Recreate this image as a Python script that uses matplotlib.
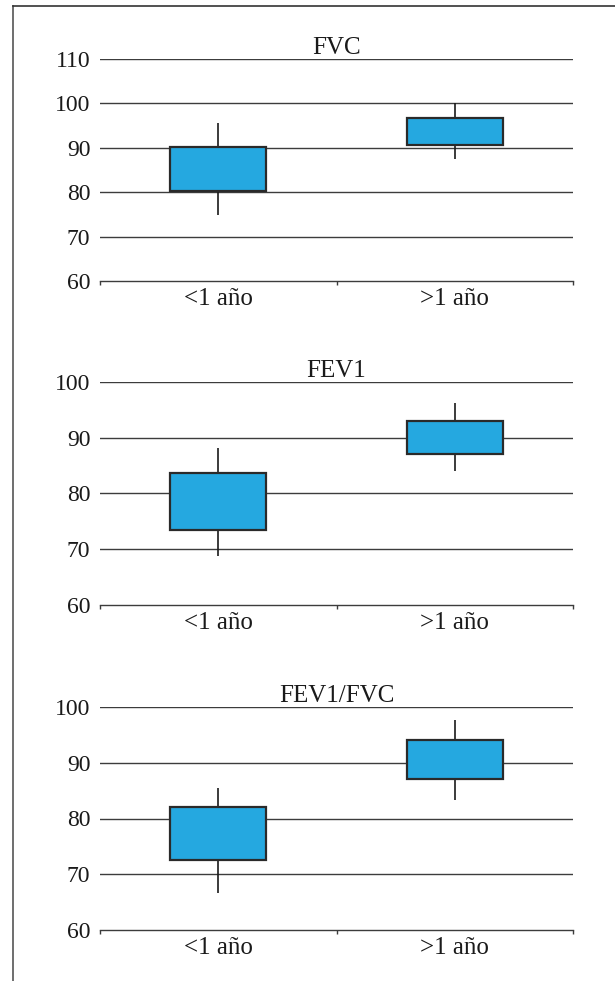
import matplotlib
matplotlib.use("Agg")
import matplotlib.pyplot as plt
from matplotlib.lines import Line2D

plt.rcParams['font.family'] = ['Liberation Serif', 'DejaVu Serif']

categories = ["<1 año", ">1 año"]
titles = ["FVC", "FEV1", "FEV1/FVC"]

# whisker low, box low, box high, whisker high
fvc_low = [74.8, 87.4]
fvc_q1 = [80.2, 90.7]
fvc_q3 = [90.2, 96.7]
fvc_high = [95.6, 100.0]

fev1_low = [68.7, 84.0]
fev1_q1 = [73.5, 87.1]
fev1_q3 = [83.6, 93.0]
fev1_high = [88.1, 96.2]

ratio_low = [66.7, 83.4]
ratio_q1 = [72.6, 87.1]
ratio_q3 = [82.1, 94.0]
ratio_high = [85.5, 97.6]

yticks_list = [[60, 70, 80, 90, 100, 110], [60, 70, 80, 90, 100], [60, 70, 80, 90, 100]]

panels = [
    (fvc_low, fvc_q1, fvc_q3, fvc_high),
    (fev1_low, fev1_q1, fev1_q3, fev1_high),
    (ratio_low, ratio_q1, ratio_q3, ratio_high),
]

W, H = 615, 981
fig = plt.figure(figsize=(W / 100, H / 100), dpi=100)

# axes pixel extents: (top_y_px, bottom_y_px)
ax_px = [(59, 281), (382, 605), (707, 930)]
left_px, right_px = 100, 573

grid_color = '#3c3c3c'
box_color = '#25a8e0'
text_color = '#1a1a1a'

for i, (lo, q1, q3, hi) in enumerate(panels):
    top, bot = ax_px[i]
    ax = fig.add_axes([left_px / W, 1 - bot / H, (right_px - left_px) / W, (bot - top) / H])
    yt = yticks_list[i]
    ax.set_ylim(yt[0], yt[-1])
    ax.set_xlim(0, len(categories))
    x = [k + 0.5 for k in range(len(categories))]
    for yv in yt[1:]:
        ax.axhline(yv, color=grid_color, lw=1.0, zorder=1)
    ax.vlines(x, lo, hi, color='#1a1a1a', lw=1.2, zorder=2)
    heights = [b - a for a, b in zip(q1, q3)]
    ax.bar(x, heights, bottom=q1, width=0.405, color=box_color,
           edgecolor='#2a2a2a', linewidth=1.6, zorder=3)
    for s in ['top', 'right', 'left']:
        ax.spines[s].set_visible(False)
    ax.spines['bottom'].set_color(grid_color)
    ax.spines['bottom'].set_linewidth(1.0)
    ax.set_yticks(yt)
    ax.set_yticklabels([str(v) for v in yt], fontsize=17, color=text_color)
    ax.tick_params(axis='y', length=0, pad=7)
    ax.set_xticks(x)
    ax.set_xticklabels(categories, fontsize=18, color=text_color)
    ax.tick_params(axis='x', which='major', length=0, pad=5)
    ax.set_xticks(range(len(categories) + 1), minor=True)
    ax.tick_params(axis='x', which='minor', length=3, width=1.0, color=grid_color, direction='out')
    ax.set_title(titles[i], fontsize=18, color=text_color, pad=3)

# outer frame (left and top lines)
fig.add_artist(Line2D([13 / W, 13 / W], [0, 1 - 6 / H], transform=fig.transFigure,
                      color='#555555', lw=1.2))
fig.add_artist(Line2D([13 / W, 1], [1 - 6 / H, 1 - 6 / H], transform=fig.transFigure,
                      color='#333333', lw=1.2))

fig.savefig("out.png", dpi=100)
